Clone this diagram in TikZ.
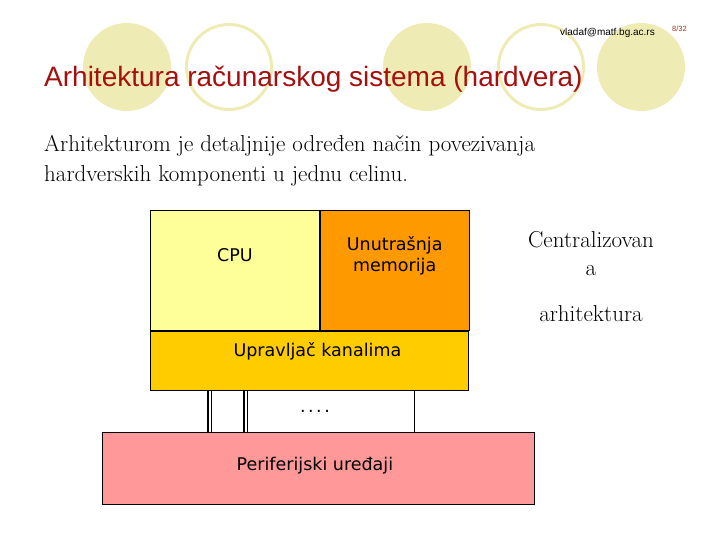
\documentclass[tikz,border=0pt]{standalone}
\usepackage{fontspec}
\newfontfamily\arialfont{Liberation Sans}
\newfontfamily\verdanafont{DejaVu Sans}
\usetikzlibrary{positioning}

\definecolor{circleyellow}{RGB}{238,236,180}
\definecolor{titlered}{RGB}{165,15,15}
\definecolor{pagebrown}{RGB}{140,60,30}
\definecolor{cpuyellow}{RGB}{255,255,153}
\definecolor{memorange}{RGB}{255,153,0}
\definecolor{ctrlyellow}{RGB}{255,204,0}
\definecolor{periphpink}{RGB}{255,153,153}

\tikzset{
  box/.style={draw, line width=0.8pt, rectangle, inner sep=0pt, anchor=north west},
  boxtext/.style={font=\verdanafont\fontsize{17.5}{21}\selectfont, align=center},
  bus/.style={draw, double, double distance=2pt, line width=1.6pt},
  wire/.style={draw, line width=0.8pt},
}

\begin{document}
\begin{tikzpicture}[x=1pt,y=-1pt]
    \useasboundingbox (0,0) rectangle (720,540);
    % Draw the circles behind the title
    \fill[circleyellow] (127,67) circle (44pt);
    \draw[circleyellow, line width=3pt] (229,67) circle (42.5pt);
    \fill[circleyellow] (427,67) circle (44pt);
    \draw[circleyellow, line width=3pt] (541,67) circle (42.5pt);
    \fill[circleyellow] (641,67) circle (44pt);
    % Header and title
    \node[anchor=base east, inner sep=0pt, font=\arialfont\fontsize{10}{12}\selectfont] (mail) at (655,36) {vladaf@matf.bg.ac.rs};
    \node[anchor=base west, inner sep=0pt, text=pagebrown, font=\arialfont\fontsize{7.5}{9}\selectfont] (page) at (672,32) {8/32};
    \node[anchor=base west, inner sep=0pt, text=titlered, font=\arialfont\fontsize{28}{32}\selectfont] (title) at (44,87) {Arhitektura računarskog sistema (hardvera)};
    % Text of the slide
    \node[anchor=base west, inner sep=0pt, align=left, font=\fontsize{23}{30}\selectfont] (intro) at (44,182)
        {Arhitekturom je detaljnije određen način povezivanja\\hardverskih komponenti u jednu celinu.};
    \node[anchor=base, inner sep=0pt, align=center, font=\fontsize{23}{28}\selectfont] (kind) at (591,321)
        {Centralizovan\\a\\[18pt]arhitektura};
    % Draw the blocks of the computer
    \node[box, fill=cpuyellow, minimum width=169pt, minimum height=120pt] (cpu) at (150,210) {};
    \node[box, fill=memorange, minimum width=149pt, minimum height=120pt, right=0pt of cpu] (mem) {};
    \node[box, fill=ctrlyellow, minimum width=318pt, minimum height=59pt] (ctrl) at (cpu.south west) {};
    \node[box, fill=periphpink, minimum width=432pt, minimum height=72pt] (periph) at (102,432) {};
    \node[boxtext] (cpulabel) at ([yshift=15pt]cpu.center) {CPU};
    \node[boxtext] (memlabel) at ([yshift=15pt]mem.center) {Unutrašnja\\memorija};
    \node[boxtext] (ctrllabel) at ([xshift=8pt,yshift=9.5pt]ctrl.center) {Upravljač kanalima};
    \node[boxtext] (periphlabel) at ([xshift=-3.5pt,yshift=3pt]periph.center) {Periferijski uređaji};
    % Draw the channels
    \draw[bus] (ctrl.south west) ++(59.5,0) coordinate (bus1) -- (bus1 |- periph.north);
    \draw[bus] (ctrl.south west) ++(95.5,0) coordinate (bus2) -- (bus2 |- periph.north);
    \draw[wire] (ctrl.south west) ++(264,0) coordinate (bus3) -- (bus3 |- periph.north);
    \node[boxtext] (dots) at (315,411) {.\kern2.5pt.\kern2.5pt.\kern2.5pt.};
\end{tikzpicture}
\end{document}
